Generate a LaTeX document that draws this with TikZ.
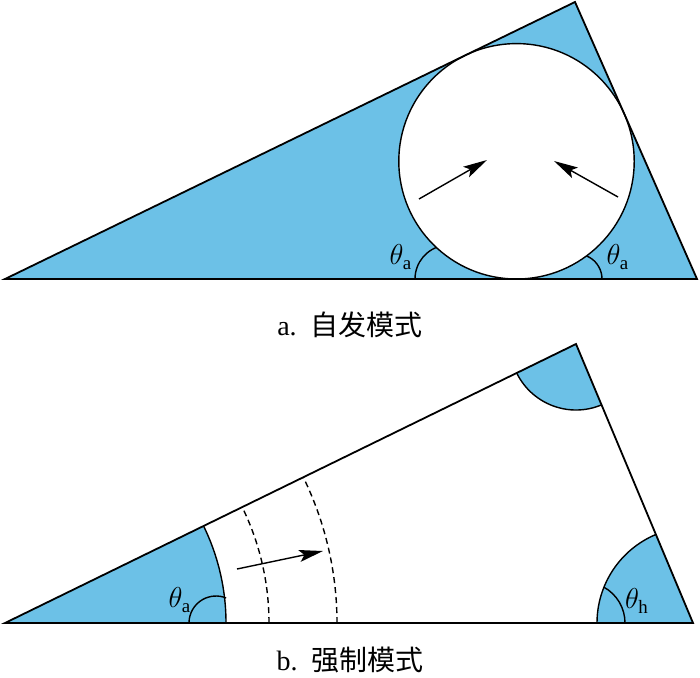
\documentclass[tikz,border=0pt]{standalone}
\usepackage{fontspec}
\setmainfont{Liberation Serif}
\newfontfamily\cjk{Noto Sans CJK SC}
\usepackage{tikz}
\usetikzlibrary{arrows.meta}
\definecolor{liquid}{RGB}{108,193,231}

\begin{document}
\begin{tikzpicture}[x=0.5pt, y=0.5pt,
    wall/.style={line width=0.9pt, line join=miter},
    meniscus/.style={line width=0.7pt},
    push/.style={line width=0.7pt, -{Stealth[length=12pt, width=6pt, inset=2.5pt]}},
    angmark/.style={line width=0.7pt},
    lab/.style={font=\fontsize{13.5}{15}\selectfont},
    caption/.style={font=\fontsize{14}{16}\selectfont}]
  \useasboundingbox (0,0) rectangle (700,677);

  % a. 自发模式：楔形角内的液体与气泡
  \coordinate (a1) at (5,398);
  \coordinate (a2) at (575,675);
  \coordinate (a3) at (697,398);
  \coordinate (ac) at (516.5,515.7);
  \fill[liquid] (a1) -- (a2) -- (a3) -- cycle;

  % 接触角（被气泡盖住多余部分）
  \draw[angmark] (449,398) ++(180:34) arc[start angle=180, end angle=100, radius=34];
  \draw[angmark] (577,398) ++(0:25) arc[start angle=0, end angle=100, radius=25];

  % 气泡
  \filldraw[fill=white, meniscus] (ac) circle[radius=117.7];
  \draw[wall] (a1) -- (a2) -- (a3) -- cycle;

  % 推动方向
  \coordinate (pl0) at (419,478);
  \coordinate (pl1) at (487,517);
  \coordinate (pr0) at (618,480);
  \coordinate (pr1) at (554,516);
  \draw[push] (pl0) -- (pl1);
  \draw[push] (pr0) -- (pr1);

  % 标注
  \node[lab] (ta1) at (401,420) {$\theta_{\mathrm{a}}$};
  \node[lab] (ta2) at (618,420) {$\theta_{\mathrm{a}}$};
  \node[caption] (capa) at (350,352) {a.\ \ {\cjk 自发模式}};

  % b. 强制模式：液体被推向角内
  \coordinate (b1) at (5,54);
  \coordinate (b2) at (576,333);
  \coordinate (b3) at (693,54);
  \fill[liquid] (b1) -- ++(0:221) arc[start angle=0, end angle=26.04, radius=221] -- cycle;
  \fill[liquid] (b2) -- ++(206.04:66) arc[start angle=206.04, end angle=292.75, radius=66] -- cycle;
  \fill[liquid] (b3) -- ++(112.75:96) arc[start angle=112.75, end angle=180, radius=96] -- cycle;

  % 弯液面
  \draw[meniscus] (b1) ++(0:221) arc[start angle=0, end angle=26.04, radius=221];
  \draw[meniscus] (b2) ++(206.04:66) arc[start angle=206.04, end angle=292.75, radius=66];
  \draw[meniscus] (b3) ++(112.75:96) arc[start angle=112.75, end angle=180, radius=96];

  % 前进后的弯液面位置
  \foreach \r in {264,332} {
    \draw[meniscus, dash pattern=on 3pt off 2pt] (b1) ++(0:\r) arc[start angle=0, end angle=26.04, radius=\r];
  }

  % 接触角
  \draw[angmark] (216,54) ++(180:27) arc[start angle=180, end angle=68, radius=27];
  \draw[angmark] (584,54) ++(0:41) arc[start angle=0, end angle=61, radius=41];

  \draw[wall] (b1) -- (b2) -- (b3) -- cycle;

  % 推动方向
  \coordinate (pb0) at (237,108);
  \coordinate (pb1) at (323,126);
  \draw[push] (pb0) -- (pb1);

  % 标注
  \node[lab] (tb1) at (180,77) {$\theta_{\mathrm{a}}$};
  \node[lab] (tb2) at (637,76) {$\theta_{\mathrm{h}}$};
  \node[caption] (capb) at (350,17) {b.\ \ {\cjk 强制模式}};
\end{tikzpicture}
\end{document}
